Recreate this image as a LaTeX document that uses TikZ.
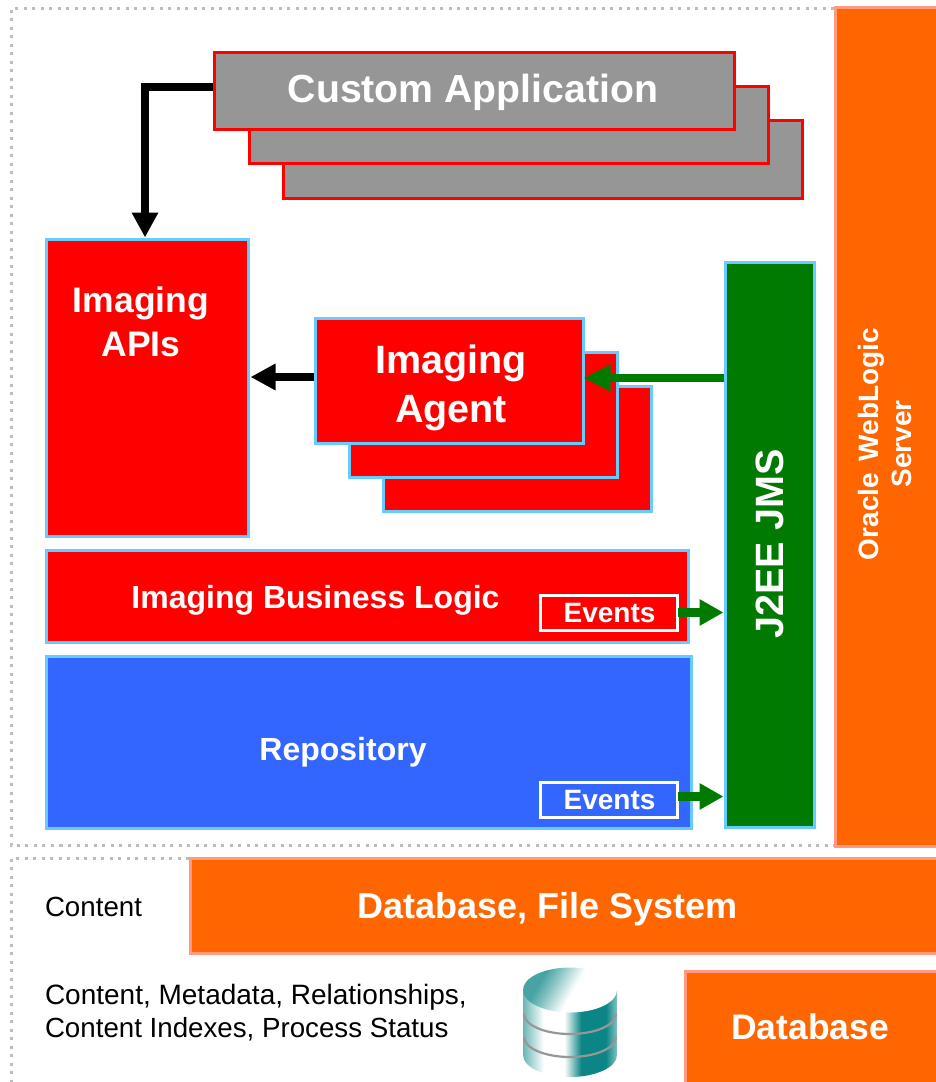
\documentclass[tikz,border=0pt]{standalone}
\usepackage{fontspec}
\setmainfont{Liberation Sans}
\usetikzlibrary{arrows.meta,calc}
\definecolor{bxred}{HTML}{FF0000}
\definecolor{bxblue}{HTML}{3366FF}
\definecolor{bxsky}{HTML}{66CCFF}
\definecolor{bxgreen}{HTML}{007A00}
\definecolor{bxgray}{HTML}{969696}
\definecolor{bxorange}{HTML}{FF6600}
\definecolor{bxsalmon}{HTML}{FF9A80}
\definecolor{bxteal}{HTML}{0B8585}
\definecolor{bxdot}{HTML}{BDBDBD}
\pgfdeclarehorizontalshading{cylside}{100bp}{color(0bp)=(bxteal!60);color(25bp)=(bxteal!60);color(36bp)=(white);color(47bp)=(white);color(56bp)=(bxteal);color(69bp)=(bxteal);color(75bp)=(bxteal!50);color(100bp)=(bxteal!50)}
\pgfdeclarehorizontalshading{cyltop}{100bp}{color(0bp)=(bxteal!75);color(30bp)=(bxteal!75);color(38bp)=(bxteal!50);color(52bp)=(white);color(100bp)=(white)}
\newcommand{\pxbox}[7]{%
  \pgfmathsetmacro{\pxcx}{(#2+#4)/2}\pgfmathsetmacro{\pxcy}{(#3+#5)/2}%
  \pgfmathsetmacro{\pxw}{#4-#2}\pgfmathsetmacro{\pxh}{#5-#3}%
  \node[#6,minimum width=\pxw pt,minimum height=\pxh pt] (#1) at (\pxcx,\pxcy) {#7};}
\newcommand{\fs}[1]{\fontsize{#1}{#1}\selectfont}
\tikzset{
  base/.style={rectangle,inner sep=0pt,outer sep=0pt,draw,line width=3pt},
  grayapp/.style={base,draw=bxred,fill=bxgray},
  redbox/.style={base,draw=bxsky,fill=bxred,text=white},
  bluebox/.style={base,draw=bxsky,fill=bxblue,text=white},
  greenbox/.style={base,draw=bxsky,fill=bxgreen,text=white},
  orangebox/.style={base,draw=bxsalmon,fill=bxorange,text=white},
  eventbox/.style={base,draw=white,text=white,line width=3pt},
  label/.style={inner sep=0pt,outer sep=0pt,text=white,font=\bfseries},
  plain/.style={inner sep=0pt,outer sep=0pt,text=black},
  dots/.style={draw=bxdot,line width=3pt,dash pattern=on 3pt off 5.5pt},
  blackarrow/.style={draw=black,line width=7.5pt,-{Triangle[length=25pt,width=25pt]}},
  greenarrow/.style={draw=bxgreen,line width=8.5pt,-{Triangle[length=24pt,width=25pt]}},
}
\begin{document}
\begin{tikzpicture}[x=1pt,y=-1pt]
\useasboundingbox (0,0) rectangle (935,1082);
\coordinate (dtr) at (834,8);
\coordinate (dtl) at (11,8);
\coordinate (dbl) at (11,845);
\coordinate (dbr) at (834,845);
\coordinate (etr) at (189,858);
\coordinate (etl) at (11,858);
\coordinate (ebl) at (11,1082);
\draw[dots] (dtr) -- (dtl) -- (dbl) -- (dbr);
\draw[dots] (etr) -- (etl) -- (ebl);
% custom application stack
\pxbox{c3}{283.5}{120.5}{802.5}{198.5}{grayapp}{}
\pxbox{c2}{249.5}{86.5}{768.5}{163.5}{grayapp}{}
\pxbox{c1}{214.5}{52.5}{734.5}{129.5}{grayapp}{}
\node[label,font=\bfseries\fs{39.2}] (c1t) at (473,92) {Custom Application};
% APIs
\pxbox{api}{46.5}{239.5}{248.5}{536.5}{redbox}{}
\node[label,align=center,font=\bfseries\fs{35.5}] (apit) at (141,322) {Imaging\\[8pt]APIs};
% agents
\pxbox{a3}{383.5}{386.5}{651.5}{511.5}{redbox}{}
\pxbox{a2}{349.5}{352.5}{617.5}{477.5}{redbox}{}
\pxbox{a1}{315.5}{318.5}{583.5}{443.5}{redbox}{}
\node[label,align=center,font=\bfseries\fs{39.5}] (a1t) at (451,388) {Imaging\\[9pt]Agent};
% JMS
\pxbox{jms}{725.5}{262.5}{814.5}{827.5}{greenbox}{}
\node[label,rotate=90,font=\bfseries\fs{39.5}] (jmst) at (769.5,544) {J2EE JMS};
% logic and repository
\pxbox{biz}{46.5}{550.5}{688.5}{642.5}{redbox}{}
\node[label,font=\bfseries\fs{32}] (bizt) at (315.5,600) {Imaging Business Logic};
\pxbox{rep}{46.5}{656.5}{691.5}{828.5}{bluebox}{}
\node[label,font=\bfseries\fs{32}] (rept) at (343,752) {Repository};
\pxbox{ev1}{540}{595}{677}{630}{eventbox}{\bfseries\fs{28}\hspace*{2pt}\raisebox{-3pt}{Events}}
\pxbox{ev2}{540}{782}{677}{817}{eventbox}{\bfseries\fs{28}\hspace*{2pt}\raisebox{-2pt}{Events}}
% orange
\pxbox{ora}{835.5}{7.5}{937}{846}{orangebox}{}
\node[label,rotate=90,align=center,font=\bfseries\fs{28}] (orat) at (885,444) {Oracle\hspace*{4pt} WebLogic\\[5pt]Server};
\pxbox{dbfs}{190.5}{858.5}{940}{953.5}{orangebox}{}
\node[label,font=\bfseries\fs{36}] (dbfst) at (547.5,909) {Database, File System};
\pxbox{db}{685.5}{971.5}{940}{1087}{orangebox}{}
\node[label,font=\bfseries\fs{35.5}] (dbt) at (810,1027) {Database};
% texts
\node[plain,anchor=west,font=\fs{27.7}] (ct) at (45,907) {Content};
\node[plain,anchor=west,font=\fs{28}] (m1) at (45,997) {Content, Metadata, Relationships,};
\node[plain,anchor=west,font=\fs{27.7}] (m2) at (45,1029) {Content Indexes, Process Status};
% connectors
\draw[blackarrow] ($(c1.west)+(-2,-4)$) -| ($(api.north)+(-2.5,-2)$);
\draw[blackarrow] ($(a1.west)+(-2,-4)$) -- ($(api.east |- a1.west)+(2,-4)$);
\draw[greenarrow,line width=7.5pt,-{Triangle[length=27pt,width=25pt]}] ($(jms.west)+(-2,-167)$) -- ($(a1.east |- jms.west)+(0,-167)$);
\draw[greenarrow] ($(ev1.east)+(1,0)$) -- ($(jms.west |- ev1.east)+(-2,0)$);
\draw[greenarrow] ($(ev2.east)+(1,-3)$) -- ($(jms.west |- ev2.east)+(-2,-3)$);
% cylinder
\shade[shading=cylside] (523,990) -- (523,1055) arc[start angle=180,end angle=0,x radius=47,y radius=22] -- (617,990) -- cycle;
\shade[shading=cyltop,shading angle=-30] (570,990) ellipse[x radius=47,y radius=22.5];
\draw[bxdot!80!black,line width=2.2pt] (524,1014) arc[start angle=180,end angle=0,x radius=46,y radius=20];
\draw[bxdot!80!black,line width=2.2pt] (524,1037) arc[start angle=180,end angle=0,x radius=46,y radius=20];
\end{tikzpicture}
\end{document}
